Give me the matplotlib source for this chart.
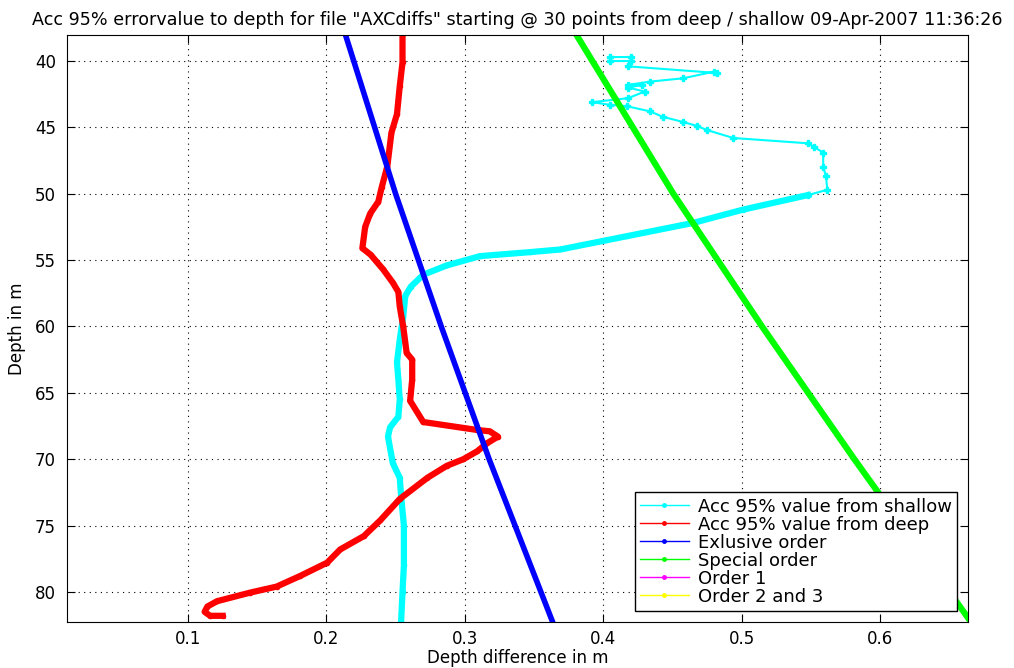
import matplotlib.pyplot as plt

plt.rcParams['font.family'] = ['DejaVu Sans']

# ===============================
# Data
# ===============================
shallow_depth = [39.7, 39.7, 40.0, 40.0, 40.4, 40.9, 40.8, 41.3, 41.55, 41.8, 41.8, 42.0,
                 42.3, 42.8, 43.1, 43.3, 43.4, 43.8, 44.2, 44.6, 44.9, 45.2, 45.8, 46.2,
                 46.45, 46.9, 47.95, 48.7, 49.7, 50.1, 51.2, 52.2, 53.2, 54.2, 54.4, 54.7,
                 55.4, 56.1, 57.0, 57.7, 59.25, 61.0, 62.7, 64.0, 65.5, 66.8, 67.6, 68.3,
                 70.3, 71.4, 72.8, 75.0, 78.0, 80.0, 82.2]
shallow_val = [0.420, 0.405, 0.405, 0.420, 0.418, 0.482, 0.480, 0.458, 0.434, 0.418, 0.428, 0.418,
               0.430, 0.418, 0.392, 0.405, 0.417, 0.434, 0.443, 0.458, 0.468, 0.475, 0.494, 0.548,
               0.552, 0.559, 0.559, 0.561, 0.562, 0.548, 0.501, 0.465, 0.417, 0.369, 0.347, 0.311,
               0.287, 0.270, 0.261, 0.257, 0.2555, 0.253, 0.251, 0.252, 0.253, 0.252, 0.246, 0.2445,
               0.248, 0.253, 0.254, 0.256, 0.256, 0.255, 0.254]

deep_depth = [38.0, 40.1, 41.9, 44.0, 45.4, 47.95, 49.5, 50.6, 51.5, 52.5, 54.1, 54.6, 55.7,
              56.7, 57.4, 58.5, 60.0, 62.0, 62.5, 64.0, 65.6, 67.2, 67.8, 67.9, 68.3, 68.8,
              69.4, 70.0, 70.5, 71.4, 73.0, 74.6, 75.8, 76.8, 77.8, 78.8, 79.6, 80.05, 80.7,
              81.1, 81.5, 81.8, 81.8]
deep_val = [0.255, 0.255, 0.253, 0.251, 0.247, 0.244, 0.240, 0.2375, 0.2316, 0.228, 0.226, 0.232,
            0.241, 0.248, 0.252, 0.253, 0.2555, 0.258, 0.262, 0.262, 0.2605, 0.270, 0.309, 0.318,
            0.324, 0.316, 0.309, 0.299, 0.287, 0.273, 0.253, 0.239, 0.227, 0.210, 0.2005, 0.181,
            0.164, 0.145, 0.121, 0.114, 0.112, 0.116, 0.125]

order_depth = [38.0, 50.0, 60.0, 70.0, 82.3]
exclusive_val = [0.2137, 0.250, 0.283, 0.3176, 0.3636]
special_val = [0.3805, 0.4507, 0.5148, 0.5815, 0.6660]

labels = ["Acc 95% value from shallow", "Acc 95% value from deep", "Exlusive order",
          "Special order", "Order 1", "Order 2 and 3"]
colors = ["#00FFFF", "#FF0000", "#0000FF", "#00FF00", "#FF00FF", "#FFFF00"]

# ===============================
# Plot
# ===============================
fig = plt.figure(figsize=(10.14, 6.68), dpi=100)
ax = fig.add_axes([0.066, 0.069, 0.8886, 0.8786])

# shallow trace: thin zig-zag near the surface, dense (thick) further down
ax.plot(shallow_val[:30], shallow_depth[:30], color=colors[0], lw=1.5, marker='P', ms=5)
ax.plot(shallow_val[29:], shallow_depth[29:], color=colors[0], lw=4.5, marker='.', ms=6)
ax.plot([], [], color=colors[0], label=labels[0])
ax.plot(deep_val, deep_depth, color=colors[1], lw=4.5, marker='.', ms=6, label=labels[1])
ax.plot(exclusive_val, order_depth, color=colors[2], lw=4, label=labels[2])
ax.plot(special_val, order_depth, color=colors[3], lw=4.5, label=labels[3])
ax.plot([], [], color=colors[4], label=labels[4])
ax.plot([], [], color=colors[5], label=labels[5])

ax.set_xlim(0.0125, 0.6636)
ax.set_ylim(82.26, 38.04)
ax.set_xticks([0.1, 0.2, 0.3, 0.4, 0.5, 0.6])
ax.set_yticks([40, 45, 50, 55, 60, 65, 70, 75, 80])
ax.grid(True, linestyle=(0, (1, 4)), color="black", lw=0.8)
ax.tick_params(direction='in', top=True, right=True, labelsize=12, length=6)
ax.tick_params(axis='y', pad=8)
ax.tick_params(axis='x', pad=6)

ax.set_xlabel("Depth difference in m", fontsize=12)
ax.xaxis.set_label_coords(0.5, -0.046)
ax.set_ylabel("Depth in m", fontsize=12, labelpad=6)
ax.set_title('Acc 95% errorvalue to depth for file "AXCdiffs" starting @ 30 points from deep / shallow 09-Apr-2007 11:36:26',
             fontsize=12.6, pad=7)

leg = ax.legend(loc='lower right', fontsize=13, frameon=True, fancybox=False, framealpha=1,
                edgecolor='black', handlelength=2.7, handletextpad=0.5, borderaxespad=0.6,
                labelspacing=0.0, borderpad=0.3)
leg.get_frame().set_linewidth(1)
for line in leg.get_lines():
    line.set_linewidth(1)
    line.set_marker('.')
    line.set_markersize(5)

plt.savefig("out.png", dpi=100)
